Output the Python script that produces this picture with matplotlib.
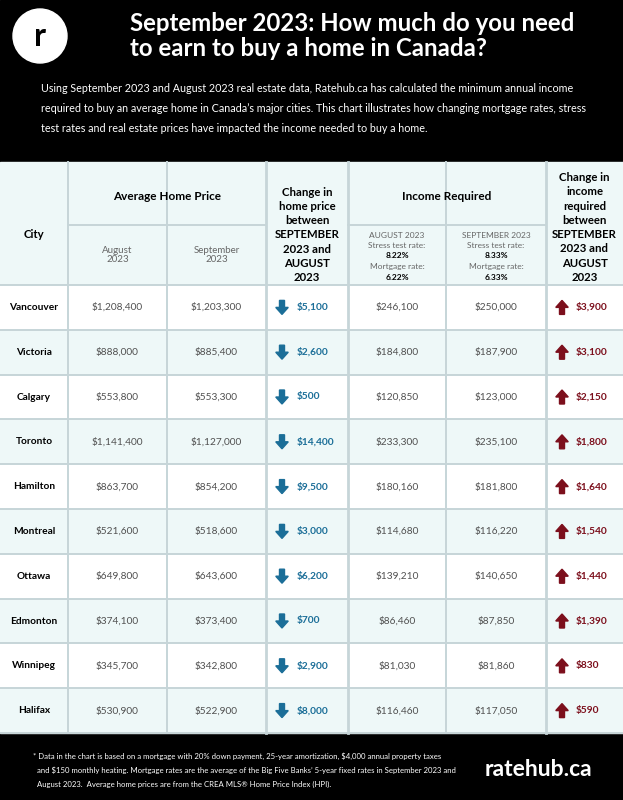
import matplotlib
matplotlib.use('Agg')
import matplotlib.pyplot as plt
from matplotlib.patches import Rectangle, Circle

plt.rcParams['font.family'] = ['Lato', 'DejaVu Sans']

# data
cities = ["Vancouver", "Victoria", "Calgary", "Toronto", "Hamilton",
          "Montreal", "Ottawa", "Edmonton", "Winnipeg", "Halifax"]
aug_price = [1208400, 888000, 553800, 1141400, 863700, 521600, 649800, 374100, 345700, 530900]
sep_price = [1203300, 885400, 553300, 1127000, 854200, 518600, 643600, 373400, 342800, 522900]
price_change = [5100, 2600, 500, 14400, 9500, 3000, 6200, 700, 2900, 8000]
aug_income = [246100, 184800, 120850, 233300, 180160, 114680, 139210, 86460, 81030, 116460]
sep_income = [250000, 187900, 123000, 235100, 181800, 116220, 140650, 87850, 81860, 117050]
income_change = [3900, 3100, 2150, 1800, 1640, 1540, 1440, 1390, 830, 590]

aug_rates = ["AUGUST 2023", "Stress test rate:", "8.22%", "Mortgage rate:", "6.22%"]
sep_rates = ["SEPTEMBER 2023", "Stress test rate:", "8.33%", "Mortgage rate:", "6.33%"]

title = "September 2023: How much do you need\nto earn to buy a home in Canada?"
intro = ["Using September 2023 and August 2023 real estate data, Ratehub.ca has calculated the minimum annual income",
         "required to buy an average home in Canada\u2019s major cities. This chart illustrates how changing mortgage rates, stress",
         "test rates and real estate prices have impacted the income needed to buy a home."]
footnote = ["* Data in the chart is based on a mortgage with 20% down payment, 25-year amortization, $4,000 annual property taxes",
            "  and $150 monthly heating. Mortgage rates are the average of the Big Five Banks\u2019 5-year fixed rates in September 2023 and",
            "  August 2023.  Average home prices are from the CREA MLS\u00ae Home Price Index (HPI)."]

W, H = 623, 800
col_x = [0, 68, 167, 266, 348, 446, 546, 623]   # column edges
head_top, head_mid, head_bot = 162, 225, 285
row_h = 44.8
tab_bot = head_bot + row_h * len(cities)

BG_LIGHT = "#eef8f8"
GRID = "#c6d5d8"
BLUE = "#1b6e98"
RED = "#7c0f1c"
GREY = "#505050"

fig = plt.figure(figsize=(W / 100, H / 100), dpi=100)
ax = fig.add_axes([0, 0, 1, 1])
ax.set_xlim(0, W)
ax.set_ylim(H, 0)
ax.axis('off')

# black header / footer bands
ax.add_patch(Rectangle((0, 0), W, head_top, color="black", zorder=0))
ax.add_patch(Rectangle((0, tab_bot), W, H - tab_bot, color="black", zorder=0))

# logo
ax.add_patch(Circle((40, 36), 27, color="white", zorder=1))
ax.text(40, 37, "r", color="black", fontsize=23, fontweight="bold", ha="center", va="center")

ax.text(130, 36, title, color="white", fontsize=17.3, fontweight="bold",
        ha="left", va="center", linespacing=1.08)
for k, line in enumerate(intro):
    ax.text(41, 88 + k * 20, line, color="white", fontsize=7.75, ha="left", va="center")

# table backgrounds
ax.add_patch(Rectangle((0, head_top), W, head_bot - head_top, color=BG_LIGHT, zorder=0))
for i in range(len(cities)):
    y0 = head_bot + i * row_h
    ax.add_patch(Rectangle((0, y0), W, row_h, color="white" if i % 2 == 0 else BG_LIGHT, zorder=0))

# grid lines
for x in col_x[1:-1]:
    lw = 2.0 if x in (266, 348, 546) else 1.4
    ax.plot([x, x], [head_top, tab_bot], color=GRID, lw=lw, zorder=2)
ax.plot([col_x[1], col_x[3]], [head_mid, head_mid], color=GRID, lw=1.4, zorder=2)
ax.plot([col_x[4], col_x[6]], [head_mid, head_mid], color=GRID, lw=1.4, zorder=2)
for i in range(len(cities) + 1):
    y = head_bot + i * row_h
    ax.plot([0, W], [y, y], color=GRID, lw=1.4, zorder=2)

def cx(c):
    return (col_x[c] + col_x[c + 1]) / 2

# header text
hfs = 8.2
ax.text(cx(0), 235, "City", fontsize=hfs, fontweight="bold", ha="center", va="center")
ax.text((col_x[1] + col_x[3]) / 2, 196, "Average Home Price", fontsize=hfs + 0.3, fontweight="bold",
        ha="center", va="center")
ax.text((col_x[4] + col_x[6]) / 2, 196, "Income Required", fontsize=hfs + 0.3, fontweight="bold",
        ha="center", va="center")
ax.text(cx(1), 255, "August\n2023", fontsize=7.0, color="#666666", ha="center", va="center",
        linespacing=0.95)
ax.text(cx(2), 255, "September\n2023", fontsize=7.0, color="#666666", ha="center", va="center",
        linespacing=0.95)

ch1 = ["Change in", "home price", "between", "SEPTEMBER", "2023 and", "AUGUST", "2023"]
for k, line in enumerate(ch1):
    ax.text(cx(3), 192 + k * 14.3, line, fontsize=hfs, fontweight="bold", ha="center", va="center")
ch2 = ["Change in", "income", "required", "between", "SEPTEMBER", "2023 and", "AUGUST", "2023"]
for k, line in enumerate(ch2):
    ax.text(cx(6), 177.5 + k * 14.3, line, fontsize=hfs, fontweight="bold", ha="center", va="center")

for c, lines in ((4, aug_rates), (5, sep_rates)):
    for k, line in enumerate(lines):
        bold = "%" in line
        ax.text(cx(c), 235 + k * 10.5, line, fontsize=6.0, ha="center", va="center",
                color="black" if bold else "#666666", fontweight="bold" if bold else "normal")

# rows
dfs = 7.3
for i, city in enumerate(cities):
    y = head_bot + (i + 0.5) * row_h
    ax.text(cx(0), y, city, fontsize=dfs, fontweight="bold", ha="center", va="center")
    ax.text(cx(1), y, "${:,}".format(aug_price[i]), fontsize=dfs, color=GREY, ha="center", va="center")
    ax.text(cx(2), y, "${:,}".format(sep_price[i]), fontsize=dfs, color=GREY, ha="center", va="center")
    ax.text(cx(4), y, "${:,}".format(aug_income[i]), fontsize=dfs, color=GREY, ha="center", va="center")
    ax.text(cx(5), y, "${:,}".format(sep_income[i]), fontsize=dfs, color=GREY, ha="center", va="center")

    # down arrow for home price change
    ax.arrow(282, y - 7, 0, 14, width=5.0, head_width=12.5, head_length=7,
             length_includes_head=True, color=BLUE, zorder=3)
    ax.text(297, y, "${:,}".format(price_change[i]), fontsize=dfs, fontweight="bold",
            color=BLUE, ha="left", va="center")

    # up arrow for income change
    ax.arrow(562, y + 7, 0, -14, width=5.0, head_width=12.5, head_length=7,
             length_includes_head=True, color=RED, zorder=3)
    ax.text(576, y, "${:,}".format(income_change[i]), fontsize=dfs, fontweight="bold",
            color=RED, ha="left", va="center")

# footer
for k, line in enumerate(footnote):
    ax.text(33, 756 + k * 14, line, color="white", fontsize=5.6, ha="left", va="center")
ax.text(538, 769, "ratehub.ca", color="white", fontsize=16.5, fontweight="bold",
        ha="center", va="center")

fig.savefig("out.png", dpi=100)
